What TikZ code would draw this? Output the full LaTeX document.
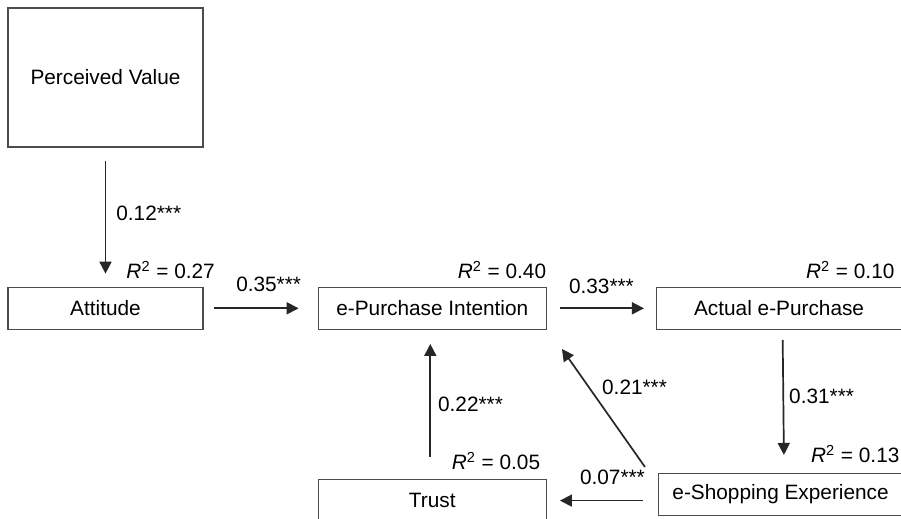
\documentclass[tikz,border=0pt]{standalone}
\usepackage{fontspec}
\setmainfont{Liberation Sans}
\usetikzlibrary{arrows.meta,positioning}

\begin{document}
\begin{tikzpicture}[->,>={Triangle[length=6pt,width=6pt]},line width=0.85pt,
                    every edge/.style={draw=black!85},
                    font=\fontsize{10.4}{12.5}\selectfont]
  \tikzstyle{box}=[draw=black!70,line width=0.65pt,minimum height=21pt,inner sep=2pt]
  \tikzstyle{lbl}=[inner sep=0pt]

  \useasboundingbox (0,0) rectangle (450.5pt,-259.5pt);

  \node[box,minimum width=97.5pt,minimum height=69.5pt] (pv) at (52.75pt,-38.75pt) {Perceived Value};
  \node[box,minimum width=97.5pt]  (att)   [below=69.5pt of pv]  {Attitude};
  \node[box,minimum width=114pt]   (epi)   [right=57pt of att]   {e-Purchase Intention};
  \node[box,minimum width=122.5pt] (aep)   [right=54.5pt of epi] {Actual e-Purchase};
  \node[box,minimum width=114pt]   (trust) [below=74.5pt of epi] {Trust};
  \node[box,minimum width=122pt]   (ese)   [below=71.5pt of aep,xshift=0.75pt] {e-Shopping Experience};

  \node[lbl,anchor=base east] (r2att)   at ([xshift=6pt,yshift=4pt]att.north east)     {\textit{R}\textsuperscript{2} = 0.27};
  \node[lbl,anchor=base east] (r2epi)   at ([yshift=4pt]epi.north east)                {\textit{R}\textsuperscript{2} = 0.40};
  \node[lbl,anchor=base east] (r2aep)   at ([xshift=-3.5pt,yshift=4pt]aep.north east)  {\textit{R}\textsuperscript{2} = 0.10};
  \node[lbl,anchor=base east] (r2trust) at ([xshift=-3pt,yshift=4.5pt]trust.north east) {\textit{R}\textsuperscript{2} = 0.05};
  \node[lbl,anchor=base east] (r2ese)   at ([xshift=-1.5pt,yshift=5pt]ese.north east)  {\textit{R}\textsuperscript{2} = 0.13};

  \path (pv) edge [shorten <=6.5pt,shorten >=6.5pt] node[lbl,right=5pt,yshift=2pt] {0.12***} (att)
        (att) edge [shorten <=5pt,shorten >=9.5pt] node[lbl,above=8pt,xshift=4pt] {0.35***} (epi)
        (epi) edge [shorten <=6.5pt,shorten >=6pt] node[lbl,above=7pt] {0.33***} (aep)
        ([xshift=1.75pt]aep.south) edge [shorten <=5pt,shorten >=9pt]
              node[lbl,right=2.5pt,yshift=2.5pt] {0.31***} ([xshift=1.75pt]ese.north)
        ([xshift=-1pt]trust.north) edge [shorten <=11pt,shorten >=7pt]
              node[lbl,right=3.5pt] {0.22***} ([xshift=-1pt]epi.south)
        (ese.west |- trust) edge [shorten <=7.25pt,shorten >=6.5pt]
              node[lbl,above=7.5pt,xshift=5pt] {0.07***} (trust.east)
        ([xshift=-6.5pt,yshift=3pt]ese.north west) edge
              node[lbl,pos=0.61,anchor=base west,xshift=3.5pt] {0.21***} ([xshift=7.5pt,yshift=-9.5pt]epi.south east);
\end{tikzpicture}
\end{document}
